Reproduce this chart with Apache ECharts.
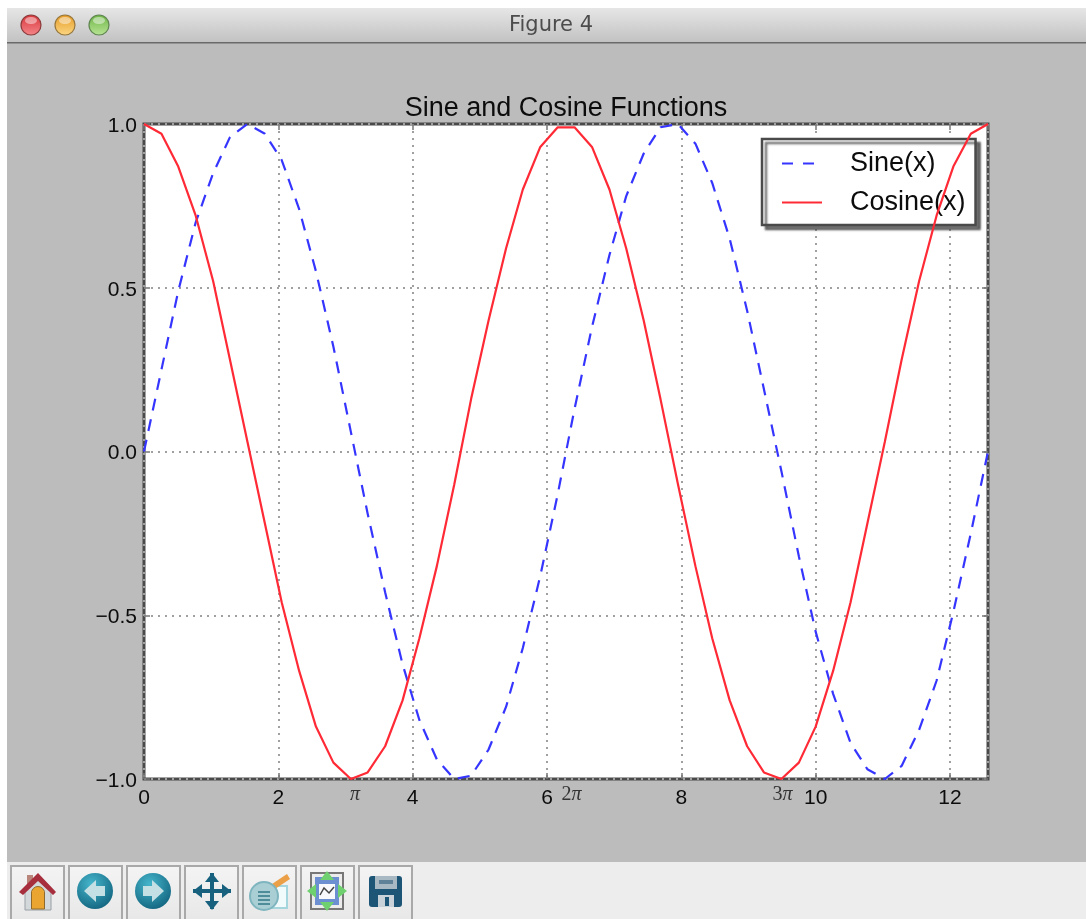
<!DOCTYPE html>
<html>
<head>
<meta charset="utf-8">
<style>
html,body{margin:0;padding:0;background:#fff;overflow:hidden}
#win{position:absolute;left:7px;top:8px;width:1079px;height:911px;background:#bcbcbc}
#c{position:absolute;left:0;top:0;width:1086px;height:919px;filter:blur(0.4px)}
</style>
<script src="https://cdn.jsdelivr.net/npm/echarts@6/dist/echarts.min.js"></script>
</head>
<body>
<div id="win"></div>
<div id="c"></div>
<script>
const xValues = [0,0.26,0.51,0.77,1.03,1.28,1.54,1.80,2.05,2.31,2.56,2.82,3.08,3.33,3.59,3.85,4.10,4.36,4.62,4.87,5.13,5.39,5.64,5.90,6.16,6.41,6.67,6.93,7.18,7.44,7.69,7.95,8.21,8.46,8.72,8.98,9.23,9.49,9.75,10.00,10.26,10.52,10.77,11.03,11.28,11.54,11.80,12.05,12.31,12.566];
const sineValues = [0,0.25,0.49,0.70,0.85,0.96,1.00,0.97,0.89,0.74,0.55,0.32,0.06,-0.19,-0.43,-0.65,-0.82,-0.94,-1.00,-0.99,-0.91,-0.78,-0.60,-0.38,-0.13,0.13,0.38,0.60,0.78,0.91,0.99,1.00,0.94,0.82,0.65,0.43,0.19,-0.06,-0.32,-0.55,-0.74,-0.89,-0.97,-1.00,-0.96,-0.85,-0.70,-0.49,-0.25,0];
const cosineValues = [1.00,0.97,0.87,0.72,0.52,0.28,0.03,-0.22,-0.46,-0.67,-0.84,-0.95,-1.00,-0.98,-0.90,-0.76,-0.57,-0.35,-0.10,0.16,0.40,0.62,0.80,0.93,0.99,0.99,0.93,0.80,0.62,0.40,0.16,-0.10,-0.35,-0.57,-0.76,-0.90,-0.98,-1.00,-0.95,-0.84,-0.67,-0.46,-0.22,0.03,0.28,0.52,0.72,0.87,0.97,1.00];
const piTickValues = [3.1416,6.2832,9.4248];
const piTickLabels = ['{p|π}','{s|2}{p|π}','{s|3}{p|π}'];
const seriesNames = ['Sine(x)','Cosine(x)'];
const chartTitle = 'Sine and Cosine Functions';
const windowTitle = 'Figure 4';
const xMax = 12.566;

const sans = '"Liberation Sans", Arial, sans-serif';
const ink = '#0c0c0c';
const line = (a,b) => a.map((v,i)=>[v,b[i]]);
const tickStyle = {show:true,inside:true,length:6,lineStyle:{color:'#777',width:1.5}};
const lblStyle = {color:ink,fontFamily:sans,fontSize:21};
const offZero = {show:false,onZero:false};
const gridLine = {show:true,lineStyle:{color:'#a0a0a0',width:2,type:[2,5]}};

/* window chrome */
const chrome = [];
chrome.push({type:'rect',shape:{x:7,y:8,width:1079,height:34},silent:true,
  style:{fill:new echarts.graphic.LinearGradient(0,0,0,1,[{offset:0,color:'#e6e6e6'},{offset:1,color:'#c2c2c2'}])}});
chrome.push({type:'rect',shape:{x:7,y:42,width:1079,height:1.5},silent:true,style:{fill:'#6a6a6a'}});
[[31,'#f4878a','#d8343a','#8d3a3c'],[65,'#fbd784','#e69a24','#97773a'],[99,'#b9e596','#6cb444','#5f8650']].forEach(b=>{
  chrome.push({type:'circle',shape:{cx:b[0],cy:25,r:10},silent:true,
    style:{fill:new echarts.graphic.LinearGradient(0,0,0,1,[{offset:0,color:b[2]},{offset:1,color:b[1]}]),stroke:b[3],lineWidth:1.2}});
  chrome.push({type:'ellipse',shape:{cx:b[0],cy:20.5,rx:6,ry:3.5},silent:true,style:{fill:'rgba(255,255,255,0.45)'}});
});
chrome.push({type:'text',style:{x:551,y:26,text:windowTitle,fill:'#4c4c4c',font:'21px "DejaVu Sans"',align:'center',verticalAlign:'middle'},silent:true});

/* toolbar */
chrome.push({type:'rect',shape:{x:7,y:862,width:1079,height:57},silent:true,style:{fill:'#ededed'}});
[11,69,127,185,243,301,359].forEach(x=>{
  chrome.push({type:'rect',shape:{x:x,y:866,width:53,height:60},silent:true,
    style:{fill:new echarts.graphic.LinearGradient(0,0,0,1,[{offset:0,color:'#f4f4f4'},{offset:1,color:'#e6e6e6'}]),stroke:'#a9a9a9',lineWidth:2}});
});
const teal = '#17617f';
const P = (points,fill,extra)=>chrome.push({type:'polygon',shape:{points},silent:true,style:Object.assign({fill},extra||{})});
const R = (x,y,w,h,fill,extra)=>chrome.push({type:'rect',shape:{x,y,width:w,height:h},silent:true,style:Object.assign({fill},extra||{})});
const C = (cx,cy,r,fill,extra)=>chrome.push({type:'circle',shape:{cx,cy,r},silent:true,style:Object.assign({fill},extra||{})});
// home
P([[25,891],[25,910],[51,910],[51,891],[38,880]],'#d3d8db',{stroke:'#9aa0a5',lineWidth:1});
R(27,875,6,11,'#b9847a');
P([[19,892],[38,873],[56,892],[53,895],[38,881],[23,895]],'#a62e3d');
C(38,893,6.5,'#eaa531',{stroke:'#8f6a2a',lineWidth:1});
R(31.5,893,13,16,'#eaa531',{stroke:'#8f6a2a',lineWidth:1});
R(32,891,12,3,'#eaa531');
// back / forward
const ball = (cx)=>C(cx,891,18,new echarts.graphic.RadialGradient(0.4,0.3,0.8,[{offset:0,color:'#45b6cc'},{offset:1,color:'#0f5f7a'}]));
ball(95);
P([[84,891],[96,880],[96,886],[105,886],[105,896],[96,896],[96,902]],'#c4e0e4');
ball(153);
P([[164,891],[152,880],[152,886],[143,886],[143,896],[152,896],[152,902]],'#c4e0e4');
// pan
R(193,889,38,4,teal); R(210,873,4,36,teal);
P([[193,891],[202,884],[202,898]],teal); P([[231,891],[222,884],[222,898]],teal);
P([[212,873],[205,882],[219,882]],teal); P([[212,910],[205,901],[219,901]],teal);
// zoom
R(262,886,25,22,'#f2fbfc',{stroke:'#a5d6dd',lineWidth:2});
P([[272,884],[287,874],[290,879],[275,889]],'#eb9f46');
C(264,896,14,'#a9cfd4',{stroke:'#7fb5bf',lineWidth:2});
[891,895,899,903].forEach(y=>R(258,y,12,2,'#4f8d9b'));
// subplots
R(311,873,32,36,'#ececec',{stroke:'#777',lineWidth:2});
R(315,877,24,28,'#6b8fd1');
R(319,884,16,15,'#f7f9fd');
chrome.push({type:'polyline',shape:{points:[[320,895],[324,888],[329,893],[334,887]]},silent:true,style:{stroke:'#444',fill:null,lineWidth:1.5}});
const g='#6fd06f';
P([[327,871],[320,880],[334,880]],g); P([[327,911],[320,902],[334,902]],g);
P([[307,891],[316,884],[316,898]],g); P([[347,891],[338,884],[338,898]],g);
// save
chrome.push({type:'rect',shape:{x:369,y:876,width:33,height:31,r:3},silent:true,style:{fill:'#1d5576'}});
R(375,876,22,13,'#a8b9c4'); R(379,880,14,4,'#5f8299');
R(378,895,16,12,'#c8d2d8'); R(385,897,4,9,'#1d5576');

const chart = echarts.init(document.getElementById('c'),null,{renderer:'canvas'});
chart.setOption({
  animation:false,
  backgroundColor:'transparent',
  title:{text:chartTitle,left:561,top:90,textAlign:'center',
    textStyle:{color:ink,fontFamily:sans,fontSize:27,fontWeight:'normal'}},
  legend:{
    show:true,orient:'vertical',left:762,top:139,
    padding:[11,10,9,19],itemGap:12,itemWidth:40,itemHeight:14,
    backgroundColor:'#fff',borderColor:'#4a4a4a',borderWidth:2.5,
    shadowColor:'rgba(60,60,60,0.7)',shadowBlur:2,shadowOffsetX:4,shadowOffsetY:4,
    itemStyle:{opacity:0},
    textStyle:{color:ink,fontFamily:sans,fontSize:27,padding:[0,0,0,23]},
    data:[{name:seriesNames[0],lineStyle:{type:[11,10]}},{name:seriesNames[1]}]
  },
  grid:{left:144,top:124,width:844,height:655,show:true,backgroundColor:'#fff',borderColor:'#4a4a4a',borderWidth:3,containLabel:false},
  xAxis:[
    {type:'value',min:0,max:xMax,interval:2,position:'bottom',
      axisLine:offZero,axisTick:tickStyle,
      axisLabel:Object.assign({margin:9,showMaxLabel:false,formatter:v=>String(v)},lblStyle),
      splitLine:gridLine},
    {type:'value',min:0,max:xMax,interval:2,position:'top',
      axisLine:offZero,axisTick:tickStyle,axisLabel:{show:false},splitLine:{show:false}},
    {type:'value',min:0,max:xMax,position:'bottom',
      axisLine:offZero,axisTick:{show:false},splitLine:{show:false},
      axisLabel:{show:true,margin:6,customValues:piTickValues,
        formatter:v=>piTickLabels[piTickValues.indexOf(v)]||'',
        rich:{p:{fontFamily:'"Liberation Serif",serif',fontStyle:'italic',fontSize:20,color:'#333'},
              s:{fontFamily:'"Liberation Serif",serif',fontSize:20,color:'#333',padding:[0,0,0,11]}}}}
  ],
  yAxis:[
    {type:'value',min:-1,max:1,interval:0.5,position:'left',
      axisLine:offZero,axisTick:tickStyle,
      axisLabel:{margin:7,formatter:v=>'{t|'+v.toFixed(1).replace('-','\u2212')+'}',
        rich:{t:Object.assign({padding:[4,0,0,0]},lblStyle)}},
      splitLine:gridLine},
    {type:'value',min:-1,max:1,interval:0.5,position:'right',
      axisLine:offZero,axisTick:tickStyle,axisLabel:{show:false},splitLine:{show:false}}
  ],
  series:[
    {name:seriesNames[0],type:'line',data:line(xValues,sineValues),showSymbol:false,symbol:'none',
      lineStyle:{color:'#3535ff',width:2.2,type:[12,9]},itemStyle:{color:'#3535ff'},z:3},
    {name:seriesNames[1],type:'line',data:line(xValues,cosineValues),showSymbol:false,symbol:'none',
      lineStyle:{color:'#ff2a35',width:2.2},itemStyle:{color:'#ff2a35'},z:4}
  ],
  graphic:{elements:chrome}
});
</script>
</body>
</html>
